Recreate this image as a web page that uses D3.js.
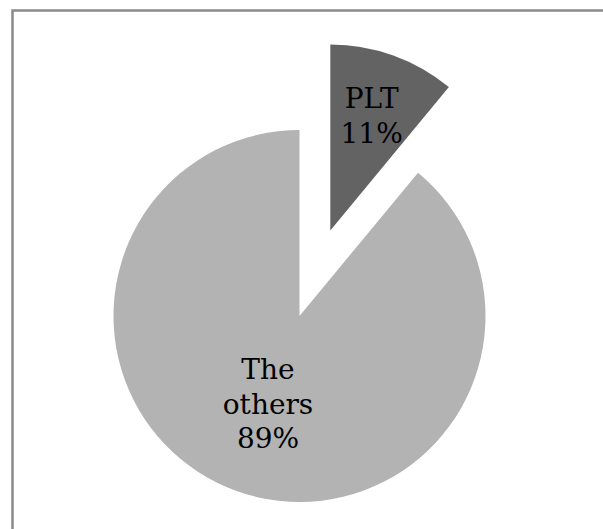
<!DOCTYPE html>
<html>
<head>
<meta charset="utf-8">
<script src="https://cdn.jsdelivr.net/npm/d3@7"></script>
<style>
  html, body { margin: 0; padding: 0; background: #fff; overflow: hidden; }
  svg { display: block; }
</style>
</head>
<body>
<script>
const categories = ["PLT", "The others"];
const values = [11, 89];
const colors = ["#636363", "#b3b3b3"];
const explode = [91, 0];
const labelLines = [["PLT", "11%"], ["The", "others", "89%"]];

const W = 603, H = 529;
const cx = 299.5, cy = 316, R = 186;

const svg = d3.select("body").append("svg").attr("width", W).attr("height", H);

// chart frame (only top and left visible within the viewport)
svg.append("rect")
  .attr("x", 12.5).attr("y", 10.5)
  .attr("width", 800).attr("height", 800)
  .attr("fill", "none")
  .attr("stroke", "#8a8a8a")
  .attr("stroke-width", 2.5);

const pie = d3.pie().sort(null).value(d => d)(values);
const arc = d3.arc().innerRadius(0).outerRadius(R);

const g = svg.append("g").attr("transform", `translate(${cx},${cy})`);

const slices = g.selectAll("g.slice").data(pie).join("g")
  .attr("class", "slice")
  .attr("transform", (d, i) => {
    const a = (d.startAngle + d.endAngle) / 2;
    const off = explode[i];
    return `translate(${Math.sin(a) * off},${-Math.cos(a) * off})`;
  });

slices.append("path")
  .attr("d", arc)
  .attr("fill", (d, i) => colors[i]);

const labelR = [122, 93];
const lineH = 34.5;
slices.each(function(d, i) {
  const a = (d.startAngle + d.endAngle) / 2;
  const lx = Math.sin(a) * labelR[i];
  const ly = -Math.cos(a) * labelR[i];
  const lines = labelLines[i];
  const t = d3.select(this).append("text")
    .attr("text-anchor", "middle")
    .attr("font-family", "'DejaVu Serif', serif")
    .attr("font-size", 28)
    .attr("fill", "#000");
  lines.forEach((s, k) => {
    t.append("tspan")
      .attr("x", lx)
      .attr("y", ly + (k - (lines.length - 1) / 2) * lineH)
      .attr("dy", "0.36em")
      .text(s);
  });
});
</script>
</body>
</html>
